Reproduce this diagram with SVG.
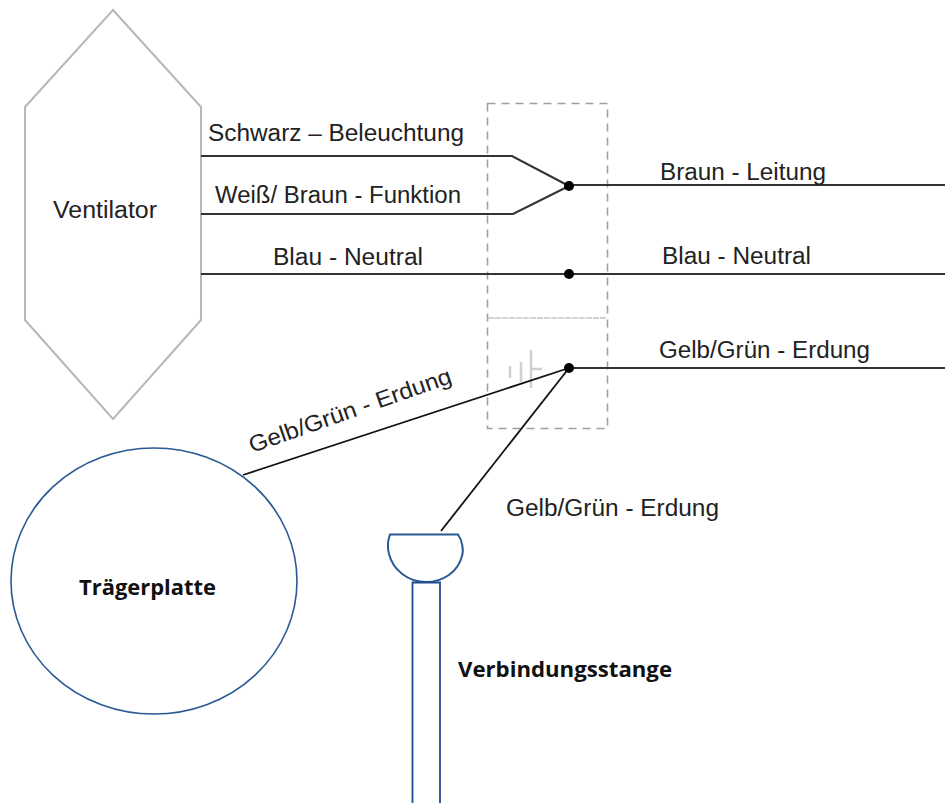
<svg xmlns="http://www.w3.org/2000/svg" width="945" height="803" viewBox="0 0 945 803">
<style>
text{font-family:"Liberation Sans",Arial,sans-serif;font-size:23px;fill:#222}
.b{font-family:"Open Sans","Noto Sans",sans-serif;font-size:21px;font-weight:700;fill:#111}
.w{fill:none;stroke:#333;stroke-width:2}
.k{fill:none;stroke:#111;stroke-width:1.8}
.g{fill:none;stroke:#b8b8b8;stroke-width:2}
.d{fill:none;stroke:#a0a0a0;stroke-width:1.600;stroke-dasharray:8 6}
.s{fill:#fff;stroke:#2a5a94;stroke-width:1.600}
</style>
<rect width="945" height="803" fill="#fff"/>
<g id="ventilator"><polygon class="g" points="113,10 201,107 201,320 113,419 25,320 25,107"/><text x="53" y="218" textLength="104" lengthAdjust="spacingAndGlyphs">Ventilator</text></g>
<g id="box">
<rect class="d" x="487.500" y="103.500" width="120" height="325"/>
<line x1="488" y1="318" x2="607" y2="318" stroke="#c4c4c4" stroke-width="1.500" stroke-dasharray="6 1"/>
<path d="M510 366v12M521 362v20M531 350v38M531 369h11" fill="none" stroke="#d0d0d0" stroke-width="2.500"/>
</g>
<g id="connectors">
<path class="w" d="M201 156H512L569 186"/>
<path class="w" d="M201 214H513L569 186"/>
<line class="w" x1="569" y1="185" x2="945" y2="185"/>
<line class="w" x1="201" y1="274" x2="945" y2="274"/>
<line class="w" x1="569" y1="368" x2="945" y2="368"/>
<line class="k" x1="569" y1="368" x2="243" y2="475"/>
<line class="k" x1="569" y1="368" x2="441" y2="531"/>
<circle cx="569" cy="186" r="5" fill="#000"/><circle cx="569" cy="274" r="5" fill="#000"/><circle cx="569" cy="368" r="5" fill="#000"/>
</g>
<g id="labels">
<text x="208" y="141" textLength="256" lengthAdjust="spacingAndGlyphs">Schwarz – Beleuchtung</text>
<text x="215" y="203" textLength="246" lengthAdjust="spacingAndGlyphs">Weiß/ Braun - Funktion</text>
<text x="660" y="180" textLength="166" lengthAdjust="spacingAndGlyphs">Braun - Leitung</text>
<text x="273" y="265" textLength="150" lengthAdjust="spacingAndGlyphs">Blau - Neutral</text>
<text x="662" y="264" textLength="149" lengthAdjust="spacingAndGlyphs">Blau - Neutral</text>
<text x="659" y="358" textLength="211" lengthAdjust="spacingAndGlyphs">Gelb/Grün - Erdung</text>
<text x="506" y="516" textLength="213" lengthAdjust="spacingAndGlyphs">Gelb/Grün - Erdung</text>
<text transform="translate(252 453) rotate(-19.300)" textLength="213" lengthAdjust="spacingAndGlyphs">Gelb/Grün - Erdung</text>
</g>
<g id="traegerplatte"><ellipse class="s" cx="154" cy="581" rx="143" ry="133"/><text class="b" x="79" y="595" textLength="137" lengthAdjust="spacingAndGlyphs">Trägerplatte</text></g>
<g id="stange">
<path class="s" style="stroke-width:2" d="M390 534.500H458C462 540 464 550 462 556C458 572 443 582 426 582C408 582 393 570 389 554C387 547 388 540 390 534.500Z"/>
<path class="s" style="stroke:#1f4a8c;stroke-width:1.800" d="M412.500 803V582.500H440V803"/>
<text class="b" x="458" y="677" textLength="214" lengthAdjust="spacingAndGlyphs">Verbindungsstange</text>
</g>
</svg>
